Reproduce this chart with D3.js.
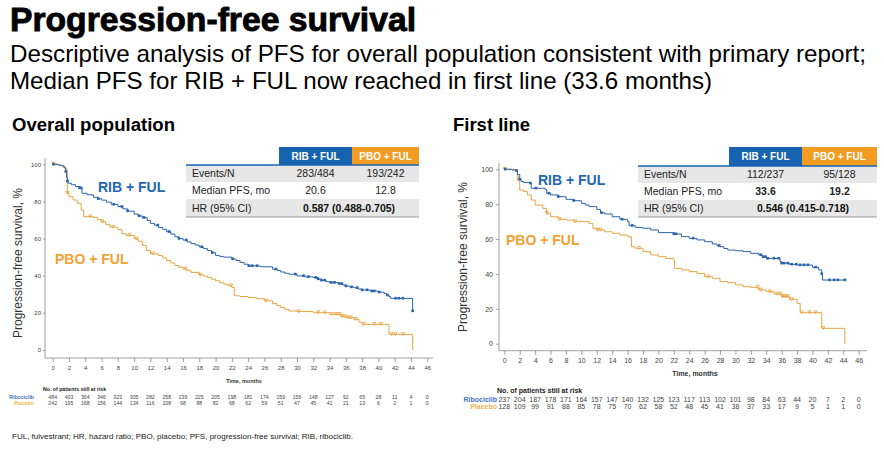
<!DOCTYPE html>
<html>
<head>
<meta charset="utf-8">
<script src="https://cdn.jsdelivr.net/npm/d3@7"></script>
<style>
  body { margin: 0; background: #fff; }
  text { font-family: "Liberation Sans", Arial, sans-serif; }
</style>
</head>
<body>
<div id="chart"></div>
<script>
// ---- data ----
const xTicks = [0, 2, 4, 6, 8, 10, 12, 14, 16, 18, 20, 22, 24, 26, 28, 30, 32, 34, 36, 38, 40, 42, 44, 46];
const yTicks = [0, 20, 40, 60, 80, 100];

// Kaplan-Meier steps [month, % progression-free], overall population
const overallRibSteps = [[0,100],[0.6,99.6],[1.0,99.2],[1.4,98],[1.6,96],[1.7,93],[1.8,91],[1.9,89.8],[2.3,89],[2.8,88],[3.3,87.2],[3.6,84.4],[4.2,83.6],[5,82.2],[5.6,81.4],[6,80.7],[6.6,79.6],[7.2,78.4],[8,77.2],[8.6,76],[9.2,74.8],[10,73.2],[10.5,72.2],[11,71.3],[11.6,69.8],[12,68.2],[12.5,67.2],[13,66],[13.5,65],[14,63.7],[14.5,62.4],[15,61],[15.5,60],[16,59.2],[16.5,58.2],[17,57.3],[17.5,56.5],[18,55.5],[18.5,54.6],[19,53.6],[19.5,52.4],[20,50.9],[20.5,50.4],[21,50],[22,49],[22.5,48.2],[23,47.2],[23.5,46.2],[24,45.3],[25.5,44.8],[27,43.5],[27.6,42.8],[28,42],[28.5,41.3],[29,40.8],[30,39.9],[31,39.4],[32,39],[32.6,38.2],[33,37.5],[33.6,36.8],[34,36.3],[35,35.7],[35.6,35],[36,34.4],[36.5,33.9],[37,33.5],[37.5,32.8],[38,32.3],[39,31.7],[40,31.1],[40.7,30.4],[41,29.5],[41.3,28.7],[41.5,27.8],[44.2,21]];
const overallPboSteps = [[0,100],[0.8,99.5],[1.3,98.5],[1.6,97],[1.8,84.4],[2,82.6],[2.5,80.8],[3,79],[3.5,75.4],[3.8,71.8],[5,71.4],[5.5,70.2],[6,69],[6.5,67.6],[7,66.2],[8,64.8],[8.5,62.6],[9,61.7],[10,59.9],[10.5,58.6],[11,56.3],[11.5,53.6],[12,51.8],[13,50.9],[13.5,49.6],[14,48.2],[14.5,46.8],[15,45.5],[15.5,44.6],[16,43.6],[16.5,42.7],[17,41.8],[18,40.4],[18.5,39.8],[19,39.1],[19.5,38.2],[20,37.3],[20.5,36.4],[21,35.5],[21.5,34.6],[22,33.7],[22.3,29.2],[23,28.8],[24,28.3],[25,27.6],[26,26.5],[27,25],[27.5,24],[28,22.9],[28.5,21.9],[29,21],[30,20.7],[32,20.1],[34,19.2],[35.5,18],[36,17.4],[37,16.5],[37.6,15],[38,13.8],[41.3,8.4],[44.2,0]];
const overallRibCens = [0.1,1.6,1.8,3.3,3.5,5.6,7.5,8.5,9.2,10.6,11.2,12.9,14.3,15.5,16.4,18.3,19.6,22.1,24.1,24.5,25.1,27.4,29.8,30.8,31.4,32.3,32.6,33.0,33.4,34.2,34.6,35.2,35.5,36.0,36.7,37.4,38.0,38.6,39.2,39.5,40.1,41.1,42.1,42.5,43.0,44.2];
const overallPboCens = [0.1,1.8,4.6,6.1,7.4,9.4,10.3,12.3,16.3,18.1,21.9,26.2,30.2,32.6,33.4,34.3,34.8,35.2,35.5,35.9,36.3,36.6,37.2,38.2,39.5,40.3,41.6,42.1,43.0];

// first line
const firstRibSteps = [[0,100],[1,99.6],[1.5,99.2],[1.7,97],[2,94.3],[2.2,93],[2.5,92.4],[3.4,92],[3.5,89.1],[5.3,88.5],[5.5,86.2],[6,85.3],[7,84.3],[8,82.8],[9,82],[10,80.5],[10.5,79.5],[11,78.6],[12,77],[12.5,75.1],[13,74.4],[14,72.8],[15,71.3],[16,70],[16.2,67.7],[17,66.7],[18,66.2],[19,65.2],[20,63.7],[22,62.9],[23,61.4],[24,60.4],[25,59.5],[26,58.5],[27,57.2],[27.6,56.2],[28,55.6],[28.5,54.6],[29,53.7],[30,53.3],[31,52.8],[32,51.8],[33,50.9],[33.5,49.8],[34,48.9],[35.8,47],[36,46.1],[37,45.5],[38,45.1],[40,43.8],[40.8,42.3],[41.2,40],[41.3,36.5],[44.2,36.5]];
const firstPboSteps = [[0,100],[1.5,99],[1.7,96],[1.8,93.9],[2,88.1],[2.5,87.2],[3,85.3],[3.5,82.4],[4,79.5],[5,77.6],[5.5,74.8],[6,72.8],[7,71.3],[8,70.9],[9,70],[11,69],[11.5,66.2],[12,65.2],[13,64.2],[14,63.3],[15,62.3],[16,61.4],[16.5,55.6],[17,54.7],[18,52.8],[19,50.9],[20,49.9],[21,48.9],[22,48],[22.1,43.2],[23,42.3],[24,41.3],[25,40.3],[26,38.4],[27,37.5],[28,35.6],[29,35],[30,33.7],[31,32.7],[32,32.3],[33,30.8],[34,29.8],[35,28.5],[36,27],[37,25.4],[38,23.1],[38.4,17.8],[41.2,8.8],[44.2,0]];
const firstRibCens = [0.1,1.6,2.0,3.4,4.1,5.8,7.0,9.0,12.6,15.3,16.6,22.0,22.3,24.5,27.9,33.3,33.6,33.9,34.2,35.0,35.6,36.0,36.3,36.8,37.3,37.9,38.4,38.9,39.4,40.4,41.2,42.2,42.8,43.3,44.2];
const firstPboCens = [0.1,1.8,5.5,7.2,9.2,12.1,12.5,17.5,26.5,32.9,33.3,34.5,35.4,35.8,36.1,36.3,36.6,36.8,37.3,38.6,39.6,40.4,41.4];

// number at risk
const overallRiskRib = [484,403,364,346,323,305,282,258,239,225,205,198,181,174,159,156,148,127,92,65,28,11,4,0];
const overallRiskPbo = [242,195,168,156,144,134,116,108,98,88,82,68,62,59,51,47,45,41,21,13,6,2,1,0];
const firstRiskRib = [237,204,187,178,171,164,157,147,140,132,125,123,117,113,102,101,98,84,63,44,20,7,2,0];
const firstRiskPbo = [128,109,99,91,88,85,78,75,70,62,58,52,48,45,41,38,37,33,17,9,5,1,1,0];

// summary tables
const tableHeads = ["RIB + FUL", "PBO + FUL"];
const tableLabels = ["Events/N", "Median PFS, mo", "HR (95% CI)"];
const overallTable = [["283/484", "193/242"], ["20.6", "12.8"], ["0.587 (0.488-0.705)"]];
const firstTable = [["112/237", "95/128"], ["33.6", "19.2"], ["0.546 (0.415-0.718)"]];

const BLUE = "#2a64ad", ORANGE = "#e9a443";
const HEAD_BLUE = "#1763b0", HEAD_ORANGE = "#f29c22";

const svg = d3.select("#chart").append("svg")
  .attr("width", 884).attr("height", 451)
  .style("background", "#fff");

// ---- headings ----
svg.append("text").attr("x", 10).attr("y", 31)
  .attr("font-size", 34).attr("font-weight", "bold")
  .attr("stroke", "#000").attr("stroke-width", 0.9)
  .attr("textLength", 406).attr("lengthAdjust", "spacingAndGlyphs")
  .text("Progression-free survival");
svg.append("text").attr("x", 10).attr("y", 62).attr("font-size", 24)
  .attr("textLength", 856).attr("lengthAdjust", "spacingAndGlyphs")
  .text("Descriptive analysis of PFS for overall population consistent with primary report;");
svg.append("text").attr("x", 10).attr("y", 89).attr("font-size", 24)
  .attr("textLength", 702).attr("lengthAdjust", "spacingAndGlyphs")
  .text("Median PFS for RIB + FUL now reached in first line (33.6 months)");
svg.append("text").attr("x", 12).attr("y", 131).attr("font-size", 18).attr("font-weight", "bold")
  .attr("textLength", 163).attr("lengthAdjust", "spacingAndGlyphs")
  .text("Overall population");
svg.append("text").attr("x", 453).attr("y", 131).attr("font-size", 18).attr("font-weight", "bold")
  .attr("textLength", 77).attr("lengthAdjust", "spacingAndGlyphs")
  .text("First line");

svg.append("text").attr("x", 12).attr("y", 439).attr("font-size", 8).attr("fill", "#222")
  .attr("textLength", 341).attr("lengthAdjust", "spacingAndGlyphs")
  .text("FUL, fulvestrant; HR, hazard ratio; PBO, placebo; PFS, progression-free survival; RIB, ribociclib.");

/**
 * survival value at time t from a step list
 */
function survAt(steps, t) {
  var s = steps[0][1];
  steps.forEach((d) => { if (d[0] <= t) s = d[1]; });
  return s;
}

/**
 * Draw one KM panel
 */
function drawPanel(p) {
  const x = d3.scaleLinear().domain([0, 46]).range([p.x0, p.x1]);
  const y = d3.scaleLinear().domain([0, 100]).range([p.y0, p.y100]);
  const g = svg.append("g");

  // axis lines
  g.append("line").attr("x1", p.axisX).attr("x2", p.axisEnd)
    .attr("y1", p.axisY).attr("y2", p.axisY).attr("stroke", "#888").attr("stroke-width", 0.8);
  g.append("line").attr("x1", p.axisX).attr("x2", p.axisX)
    .attr("y1", p.yTop).attr("y2", p.axisY).attr("stroke", "#888").attr("stroke-width", 0.8);

  const xa = g.append("g").attr("transform", "translate(0," + p.axisY + ")")
    .call(d3.axisBottom(x).tickValues(xTicks).tickSize(4).tickPadding(p.xPad));
  const ya = g.append("g").attr("transform", "translate(" + p.axisX + ",0)")
    .call(d3.axisLeft(y).tickValues(yTicks).tickSize(p.yTick).tickPadding(p.yPad));
  [xa, ya].forEach((a) => {
    a.select(".domain").remove();
    a.selectAll("line").attr("stroke", "#888").attr("stroke-width", 0.8);
    a.selectAll("text").attr("font-size", p.tickFont).attr("fill", "#444")
      .attr("font-family", "'Liberation Sans Narrow','Liberation Sans',Arial,sans-serif");
  });

  // axis titles
  g.append("text").attr("transform", "translate(" + p.yLabX + "," + p.yLabY + ") rotate(-90)")
    .attr("text-anchor", "middle").attr("font-size", 12).attr("fill", "#333")
    .text("Progression-free survival, %");
  g.append("text").attr("x", p.timeX).attr("y", p.timeY).attr("text-anchor", "middle")
    .attr("font-size", p.timeFont).attr("font-weight", "bold").attr("fill", "#333")
    .text("Time, months");

  // curves
  const line = d3.line().curve(d3.curveStepAfter).x((d) => x(d[0])).y((d) => y(d[1]));
  [[p.pbo, ORANGE], [p.rib, BLUE]].forEach(([steps, c]) => {
    g.append("path").datum(steps).attr("d", line)
      .attr("fill", "none").attr("stroke", c).attr("stroke-width", 1);
  });

  // censor marks
  g.selectAll(".cp").data(p.pboCens).join("path").attr("class", "cp")
    .attr("transform", (t) => "translate(" + x(t) + "," + y(survAt(p.pbo, t)) + ")")
    .attr("d", "M-1.6,-1.8L1.6,-1.8L0,1.2Z")
    .attr("fill", "none").attr("stroke", ORANGE).attr("stroke-width", 0.8);
  g.selectAll(".cr").data(p.ribCens).join("rect").attr("class", "cr")
    .attr("x", (t) => x(t) - 1.3).attr("y", (t) => y(survAt(p.rib, t)) - 1.5)
    .attr("width", 2.6).attr("height", 2.6).attr("fill", BLUE);

  // series labels
  g.append("text").attr("x", p.ribLab[0]).attr("y", p.ribLab[1]).attr("font-size", 14)
    .attr("font-weight", "bold").attr("fill", "#2366b1").text("RIB + FUL");
  g.append("text").attr("x", p.pboLab[0]).attr("y", p.pboLab[1]).attr("font-size", 14)
    .attr("font-weight", "bold").attr("fill", "#f0a232").text("PBO + FUL");

  // number at risk
  g.append("text").attr("x", p.riskHeadX).attr("y", p.riskY0).attr("font-size", p.riskFont)
    .attr("font-weight", "bold").attr("fill", "#222").text("No. of patients still at risk");
  [["Ribociclib", p.riskRib, p.riskY1, "#3f74bd"], ["Placebo", p.riskPbo, p.riskY2, "#f0b350"]]
    .forEach(([name, vals, yy, c]) => {
      g.append("text").attr("x", p.riskLabX).attr("y", yy).attr("text-anchor", "end")
        .attr("font-size", p.riskFont).attr("font-weight", "bold").attr("fill", c).text(name);
      g.selectAll(null).data(vals).join("text")
        .attr("x", (d, i) => x(xTicks[i])).attr("y", yy).attr("text-anchor", "middle")
        .attr("font-size", p.riskFont).attr("fill", "#444").text((d) => d);
    });

  drawTable(p.table, p.tableVals);
}

/**
 * Summary table in the top right of a panel
 */
function drawTable(t, vals) {
  const g = svg.append("g");
  const rowH = [t.r0, t.r1, t.r2, t.r3];
  g.append("rect").attr("x", t.c1).attr("y", t.h0).attr("width", t.c2 - t.c1)
    .attr("height", t.r0 - t.h0).attr("fill", HEAD_BLUE);
  g.append("rect").attr("x", t.c2).attr("y", t.h0).attr("width", t.c3 - t.c2)
    .attr("height", t.r0 - t.h0).attr("fill", HEAD_ORANGE);
  tableHeads.forEach((h, i) => {
    g.append("text").attr("x", i ? (t.c2 + t.c3) / 2 : (t.c1 + t.c2) / 2)
      .attr("y", (t.h0 + t.r0) / 2 + 3.6).attr("text-anchor", "middle")
      .attr("font-size", 10).attr("font-weight", "bold").attr("fill", "#fff").text(h);
  });
  tableLabels.forEach((lab, i) => {
    if (i !== 1) {
      g.append("rect").attr("x", t.c0).attr("y", rowH[i]).attr("width", t.c3 - t.c0)
        .attr("height", rowH[i + 1] - rowH[i]).attr("fill", "#e7e7e7");
    }
    const yy = (rowH[i] + rowH[i + 1]) / 2 + 3.8;
    g.append("text").attr("x", t.c0 + 6).attr("y", yy).attr("font-size", 10.5)
      .attr("fill", "#222").text(lab);
    const row = vals[i];
    if (row.length === 1) {
      g.append("text").attr("x", (t.c1 + t.c3) / 2).attr("y", yy).attr("text-anchor", "middle")
        .attr("font-size", 10.5).attr("font-weight", "bold").attr("fill", "#111").text(row[0]);
    } else {
      row.forEach((v, j) => {
        g.append("text").attr("x", j ? (t.c2 + t.c3) / 2 : (t.c1 + t.c2) / 2).attr("y", yy)
          .attr("text-anchor", "middle").attr("font-size", 10.5)
          .attr("font-weight", i === 1 && t.boldMedian ? "bold" : "normal")
          .attr("fill", "#222").text(v);
      });
    }
  });
  g.append("line").attr("x1", t.c0).attr("x2", t.c3).attr("y1", t.r0).attr("y2", t.r0)
    .attr("stroke", HEAD_BLUE).attr("stroke-width", 1.5);
  g.append("line").attr("x1", t.c0).attr("x2", t.c3).attr("y1", t.r3).attr("y2", t.r3)
    .attr("stroke", "#999").attr("stroke-width", 1.2);
}

drawPanel({
  x0: 52.7, x1: 427.3, y0: 350, y100: 164.3,
  axisX: 45, axisY: 358, axisEnd: 433, yTop: 158,
  xPad: 4, yTick: 2, yPad: 2, tickFont: 6,
  yLabX: 22, yLabY: 263, timeX: 244, timeY: 383, timeFont: 5.5,
  rib: overallRibSteps, pbo: overallPboSteps, ribCens: overallRibCens, pboCens: overallPboCens,
  ribLab: [98, 192], pboLab: [55, 264],
  riskHeadX: 43, riskY0: 391, riskY1: 399, riskY2: 405, riskLabX: 34, riskFont: 5.2,
  riskRib: overallRiskRib, riskPbo: overallRiskPbo,
  table: { c0: 186, c1: 279, c2: 352, c3: 419, h0: 147, r0: 165, r1: 182, r2: 199, r3: 217 },
  tableVals: overallTable
});

drawPanel({
  x0: 504.3, x1: 858.7, y0: 343.7, y100: 169.3,
  axisX: 499, axisY: 350.7, axisEnd: 867, yTop: 163,
  xPad: 3, yTick: 3, yPad: 3, tickFont: 7,
  yLabX: 467, yLabY: 257, timeX: 695, timeY: 376, timeFont: 7,
  rib: firstRibSteps, pbo: firstPboSteps, ribCens: firstRibCens, pboCens: firstPboCens,
  ribLab: [538, 185], pboLab: [506, 245],
  riskHeadX: 497, riskY0: 393, riskY1: 402, riskY2: 409, riskLabX: 497, riskFont: 7,
  riskRib: firstRiskRib, riskPbo: firstRiskPbo,
  table: { c0: 638, c1: 729, c2: 802, c3: 877, h0: 147, r0: 166, r1: 183, r2: 200, r3: 217, boldMedian: true },
  tableVals: firstTable
});
</script>
</body>
</html>
